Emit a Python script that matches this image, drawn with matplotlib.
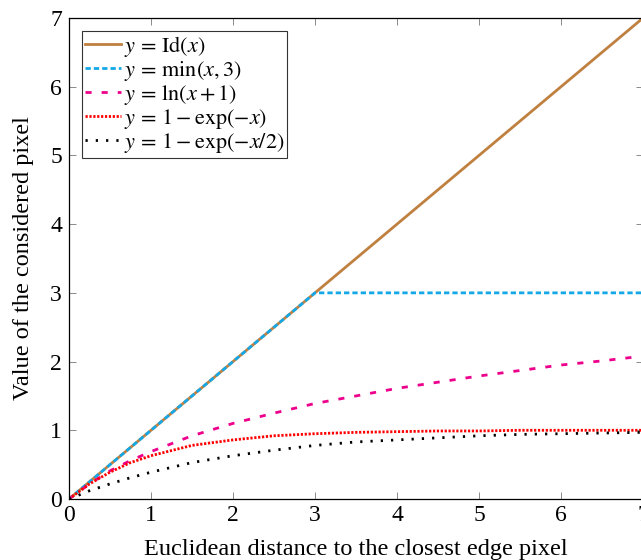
import matplotlib
matplotlib.use("Agg")
import matplotlib.pyplot as plt

# values
x_id = [0, 7]
y_id = [0, 7]

x_min = [0, 3, 7]
y_min = [0, 3, 3]

x_curve = [0, 0.25, 0.5, 0.75, 1, 1.5, 2, 2.5, 3, 3.5, 4, 4.5, 5, 5.5, 6, 6.5, 7]
y_ln = [0, 0.22, 0.41, 0.56, 0.69, 0.92, 1.10, 1.25, 1.39, 1.50, 1.61, 1.70, 1.79, 1.87, 1.95, 2.01, 2.08]
y_exp1 = [0, 0.22, 0.39, 0.53, 0.63, 0.78, 0.86, 0.92, 0.95, 0.97, 0.98, 0.99, 0.99, 1.00, 1.00, 1.00, 1.00]
y_exp2 = [0, 0.12, 0.22, 0.31, 0.39, 0.53, 0.63, 0.71, 0.78, 0.83, 0.86, 0.89, 0.92, 0.94, 0.95, 0.96, 0.97]

labels = [r'$y\,=\,\mathrm{Id}(x)$', r'$y\,=\,\min(x, 3)$', r'$y\,=\,\ln(x+1)$',
          r'$y\,=\,1 - \exp(-x)$', r'$y\,=\,1 - \exp(-x/2)$']

plt.rcParams['font.family'] = ['Liberation Serif', 'DejaVu Serif']
plt.rcParams['mathtext.fontset'] = 'stix'

fig = plt.figure(figsize=(6.41, 5.60), dpi=100)
ax = fig.add_axes([69 / 641, 61 / 560, 574 / 641, 481 / 560])

lw = 2.0
ax.plot(x_id, y_id, color='#BF8040', lw=lw, label=labels[0])
ax.plot(x_min, y_min, color='#14A8E6', lw=lw, dashes=(1.9, 1.1), label=labels[1])
ax.plot(x_curve, y_ln, color='#EC008C', lw=lw, dashes=(2.2, 3.6), label=labels[2])
ax.plot(x_curve, y_exp1, color='#FF0000', lw=lw, dashes=(0.8, 0.6), label=labels[3])
ax.plot(x_curve, y_exp2, color='black', lw=lw, dashes=(0.8, 2.9), label=labels[4])

ax.set_xlim(0, 7)
ax.set_ylim(0, 7)
ax.set_xticks(range(8))
ax.set_yticks(range(8))
ax.tick_params(direction='in', top=True, right=True, labelsize=17, length=5, width=0.6,
               color='#777777')
ax.tick_params(axis='x', pad=4)
ax.tick_params(axis='y', pad=5)
for s in ax.spines.values():
    s.set_linewidth(0.9)

ax.set_xlabel('Euclidean distance to the closest edge pixel', fontsize=17.5, labelpad=10)
ax.set_ylabel('Value of the considered pixel', fontsize=17.5, labelpad=12)

leg = ax.legend(loc='upper left', fontsize=16, frameon=True, fancybox=False,
                handlelength=1.6, handletextpad=0.15, labelspacing=0.0,
                borderpad=0.12, borderaxespad=0.6)
leg.get_frame().set_edgecolor('black')
leg.get_frame().set_linewidth(0.8)

fig.savefig('out.png', dpi=100)
